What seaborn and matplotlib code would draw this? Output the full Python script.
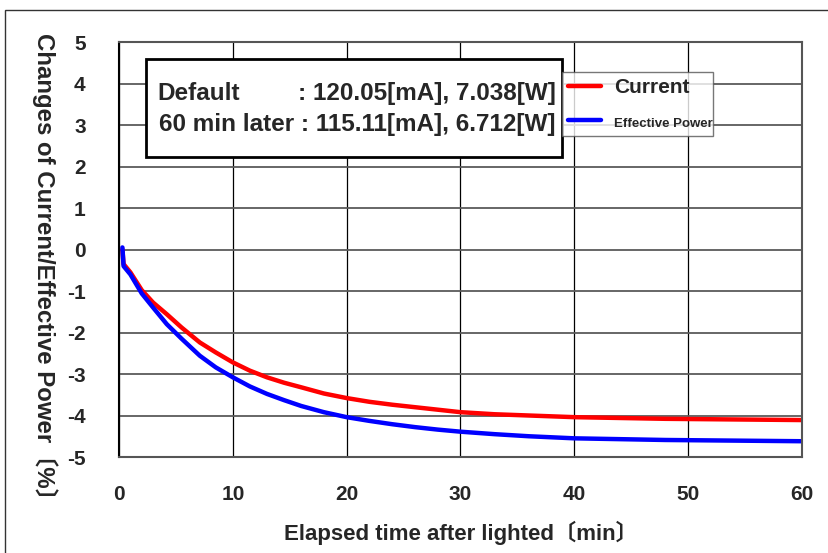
import matplotlib
matplotlib.use("Agg")
import matplotlib.pyplot as plt
import seaborn as sns
import pandas as pd
from matplotlib.patches import Rectangle

# values (percent change vs. elapsed minutes)
minutes = [0.3, 0.4, 1.0, 2.0, 3.0, 4.2, 5.5, 7.1, 8.5, 10, 11.5, 13, 14.5, 16, 18,
           20, 22, 24, 26, 28, 30, 33, 36, 40, 44, 48, 52, 56, 60]
current = [0.0, -0.35, -0.55, -0.98, -1.28, -1.56, -1.88, -2.24, -2.48, -2.72, -2.92,
           -3.08, -3.21, -3.32, -3.47, -3.58, -3.67, -3.74, -3.80, -3.86, -3.92, -3.97,
           -4.00, -4.04, -4.06, -4.08, -4.09, -4.10, -4.11]
eff_power = [0.05, -0.40, -0.60, -1.06, -1.40, -1.80, -2.15, -2.56, -2.84, -3.08, -3.30,
             -3.48, -3.63, -3.77, -3.92, -4.04, -4.13, -4.21, -4.28, -4.34, -4.39, -4.45,
             -4.50, -4.55, -4.57, -4.59, -4.60, -4.61, -4.62]
x_ticks = [0, 10, 20, 30, 40, 50, 60]
y_ticks = [-5, -4, -3, -2, -1, 0, 1, 2, 3, 4, 5]
info_lines = ["Default", ": 120.05[mA], 7.038[W]", "60 min later : 115.11[mA], 6.712[W]"]

df = pd.concat([
    pd.DataFrame({"Minutes": minutes, "Change": current, "Series": "Current"}),
    pd.DataFrame({"Minutes": minutes, "Change": eff_power, "Series": "Effective Power"}),
])

sns.set_style("white")
plt.rcParams["font.family"] = ["Liberation Sans", "Noto Sans CJK JP", "DejaVu Sans"]
plt.rcParams["font.weight"] = "bold"

fig = plt.figure(figsize=(8.29, 5.53), dpi=100)
ax = fig.add_axes([119 / 829, 1 - 457 / 553, 683 / 829, 415 / 553])

sns.lineplot(data=df, x="Minutes", y="Change", hue="Series",
             palette={"Current": "#ff0000", "Effective Power": "#0000ff"},
             linewidth=3.2, ax=ax, legend=True)

ax.set_xlim(0, 60)
ax.set_ylim(-5, 5)
ax.set_xticks(x_ticks)
ax.set_yticks(y_ticks)
ax.set_xticklabels([str(v) for v in x_ticks], fontsize=15, fontweight="bold")
ax.set_yticklabels([str(v) for v in y_ticks], fontsize=15, fontweight="bold")
ax.tick_params(axis="x", direction="in", length=0, pad=20)
ax.tick_params(axis="y", direction="in", length=6, width=1.5, color="#555555", pad=24)

ax.grid(axis="y", color="#5a5a5a", linewidth=1.3)
ax.grid(axis="x", color="black", linewidth=0.9)
ax.set_axisbelow(True)
for name, sp in ax.spines.items():
    sp.set_visible(True)
    sp.set_linewidth(1.5)
    sp.set_color("black" if name == "left" else "#555555")

ax.set_xlabel("Elapsed time after lighted〔min〕", fontsize=16, fontweight="bold",
              labelpad=12)
ax.set_ylabel("Changes of Current/Effective Power〔%〕", fontsize=17.3, fontweight="bold",
              rotation=270, va="top", ha="center", rotation_mode="default")
ax.yaxis.set_label_coords(-0.108, 1.0216)

# legend box
leg = ax.legend(loc="upper left", bbox_to_anchor=(0.649, 0.772, 0.221, 0.928 - 0.772),
                mode="expand", frameon=True, fancybox=False, edgecolor="#555555",
                handlelength=1.7, handletextpad=0.65, borderpad=0.3, labelspacing=0.85,
                borderaxespad=0, fontsize=14)
leg.get_frame().set_linewidth(1.0)
leg.get_texts()[0].set_fontsize(15)
leg.get_texts()[1].set_fontsize(9.5)
for t in leg.get_texts():
    t.set_fontweight("bold")

# info box
ax.add_patch(Rectangle(((146 - 119) / 683, (457 - 157) / 415), 416 / 683, 98 / 415,
                       transform=ax.transAxes, fill=True, facecolor="white",
                       edgecolor="black", linewidth=2, zorder=5))
ax.text((157 - 119) / 683, (457 - 93) / 415, info_lines[0], transform=ax.transAxes,
        fontsize=17.5, fontweight="bold", ha="left", va="center", zorder=6)
ax.text((556 - 119) / 683, (457 - 93) / 415, info_lines[1], transform=ax.transAxes,
        fontsize=17.5, fontweight="bold", ha="right", va="center", zorder=6)
ax.text((556 - 119) / 683, (457 - 124) / 415, info_lines[2], transform=ax.transAxes,
        fontsize=17.5, fontweight="bold", ha="right", va="center", zorder=6)

# outer frame
fig.patches.append(Rectangle((5 / 829, -0.1), 1.2, 1.1 - 10 / 553, transform=fig.transFigure,
                             fill=False, edgecolor="#333333", linewidth=1.0))

fig.savefig("out.png", dpi=100)
